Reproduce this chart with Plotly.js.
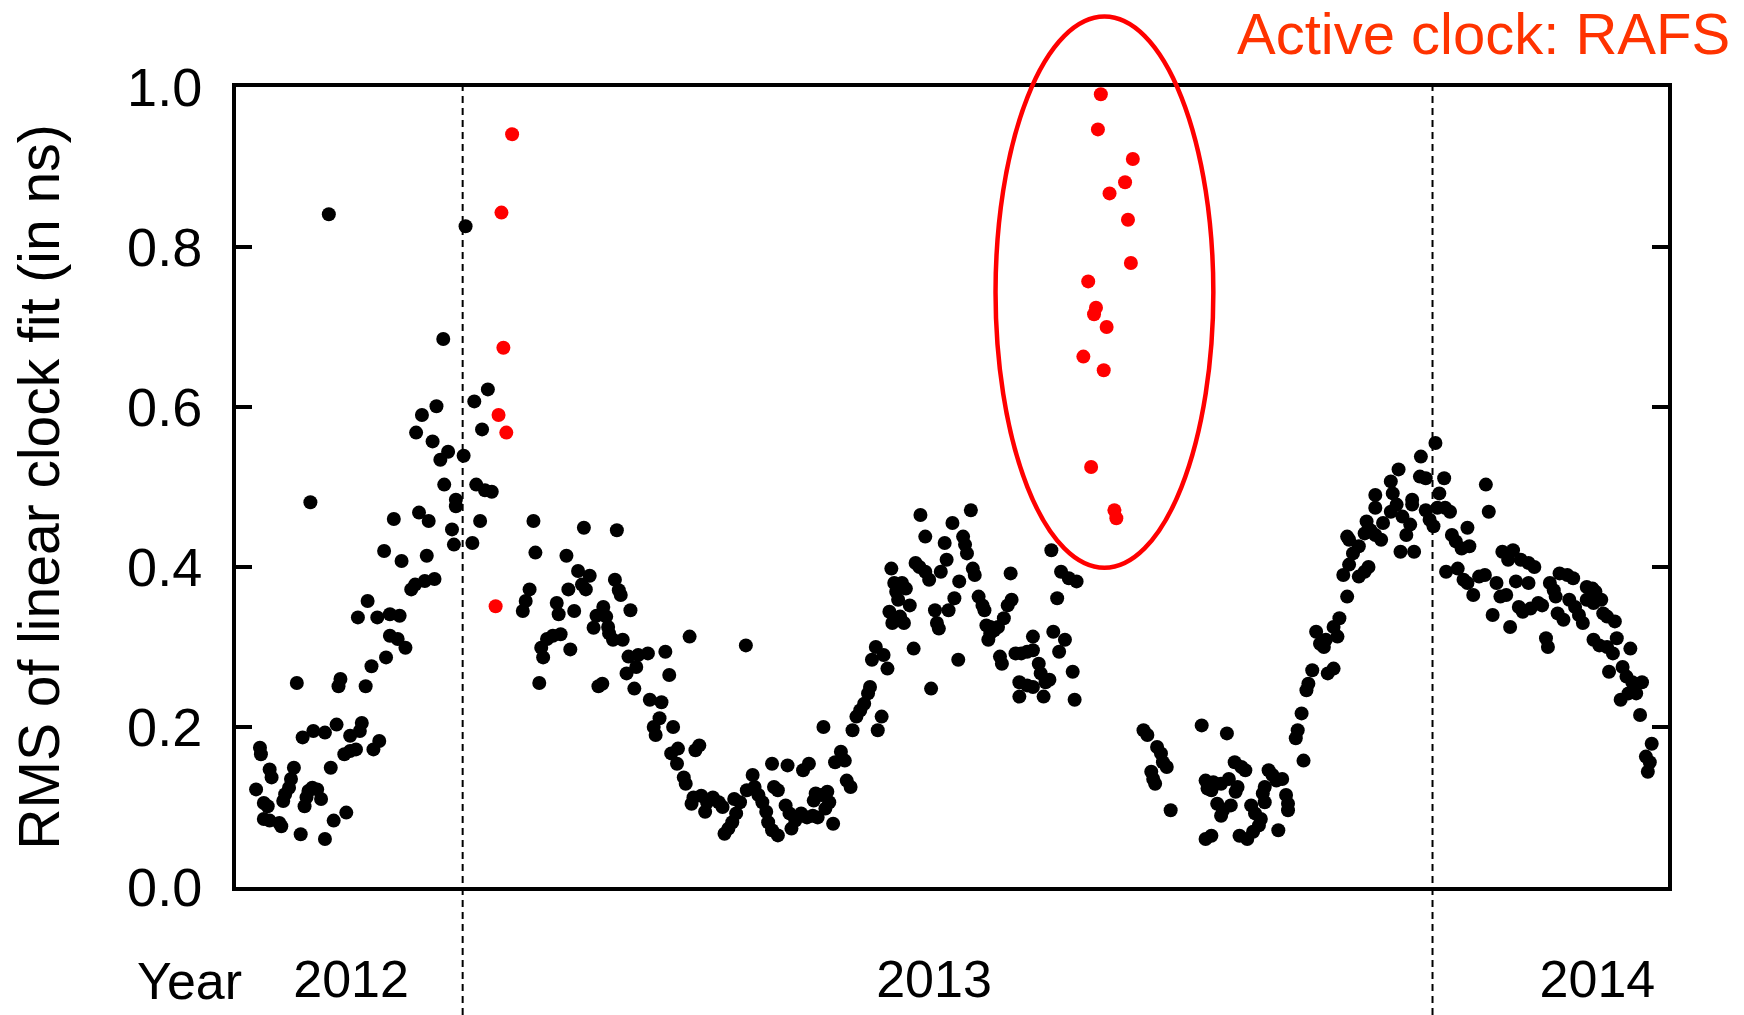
<!DOCTYPE html>
<html>
<head>
<meta charset="utf-8">
<script src="https://cdn.plot.ly/plotly-3.0.1.min.js"></script>
<style>
  html, body { margin: 0; padding: 0; background: #ffffff; }
  #chart { width: 1744px; height: 1015px; }
</style>
</head>
<body>
<div id="chart"></div>
<script>
// ---------------- DATA (decimal year, RMS in ns) ----------------
// Late 2012 (black)
const black2012 = [
  [2012.791,0.174],[2012.792,0.166],[2012.787,0.122],[2012.801,0.147],[2012.803,0.137],[2012.795,0.105],
  [2012.799,0.101],[2012.795,0.085],[2012.801,0.083],[2012.811,0.080],[2012.813,0.076],[2012.815,0.1075],
  [2012.817,0.116],[2012.821,0.124],[2012.823,0.135],[2012.826,0.149],[2012.833,0.066],[2012.829,0.255],
  [2012.835,0.187],[2012.839,0.112],[2012.841,0.120],[2012.845,0.124],[2012.850,0.122],[2012.854,0.110],
  [2012.837,0.101],[2012.846,0.195],[2012.858,0.193],[2012.858,0.060],[2012.867,0.083],[2012.880,0.093],
  [2012.864,0.149],[2012.870,0.203],[2012.872,0.251],[2012.874,0.260],[2012.878,0.166],[2012.884,0.170],
  [2012.890,0.172],[2012.884,0.189],[2012.894,0.195],[2012.896,0.205],[2012.908,0.172],[2012.914,0.1825],
  [2012.892,0.337],[2012.900,0.251],[2012.902,0.3575],[2012.906,0.276],[2012.921,0.287],[2012.912,0.337],
  [2012.925,0.341],[2012.935,0.339],[2012.925,0.314],[2012.933,0.310],[2012.941,0.299],[2012.919,0.420],
  [2012.937,0.4075],[2012.929,0.460],[2012.947,0.372],[2012.951,0.378],[2012.961,0.3825],[2012.971,0.385],
  [2012.955,0.468],[2012.965,0.4575],[2012.963,0.414],[2012.989,0.447],[2012.991,0.428],[2012.993,0.476],
  [2013.010,0.430],[2013.018,0.4575],[2012.843,0.481],
  [2012.862,0.841],[2013.003,0.826],[2012.980,0.685],[2013.026,0.622],[2013.012,0.607],[2012.973,0.601],
  [2012.958,0.590],[2012.952,0.568],[2013.020,0.572],[2012.969,0.557],[2012.985,0.544],[2012.977,0.534],
  [2013.001,0.539],[2012.981,0.503],[2013.014,0.503],[2013.023,0.496],[2013.030,0.494],[2012.993,0.484]
];
// Early 2013 (black)
const blackEarly2013 = [
  [2013.073,0.4575],[2013.075,0.418],[2013.069,0.372],[2013.065,0.3575],[2013.062,0.345],[2013.079,0.255],
  [2013.083,0.287],[2013.081,0.299],[2013.087,0.310],[2013.093,0.314],[2013.101,0.316],[2013.097,0.355],
  [2013.099,0.341],[2013.107,0.414],[2013.119,0.395],[2013.131,0.389],[2013.109,0.372],[2013.115,0.345],
  [2013.111,0.297],[2013.125,0.449],[2013.123,0.378],[2013.127,0.372],[2013.138,0.339],[2013.135,0.324],
  [2013.140,0.251],
  [2013.159,0.446],[2013.157,0.384],[2013.161,0.371],[2013.163,0.365],[2013.173,0.346],[2013.145,0.350],
  [2013.148,0.338],[2013.150,0.325],[2013.151,0.317],[2013.155,0.309],[2013.165,0.309],[2013.144,0.254],
  [2013.171,0.288],[2013.181,0.290],[2013.191,0.292],[2013.169,0.267],[2013.179,0.275],[2013.177,0.248],
  [2013.209,0.294],[2013.213,0.265],[2013.193,0.234],[2013.205,0.231],[2013.203,0.211],[2013.197,0.200],
  [2013.199,0.190],[2013.217,0.200],[2013.234,0.313],[2013.244,0.177],[2013.240,0.171],[2013.222,0.173],
  [2013.215,0.167],[2013.221,0.154],[2013.228,0.137],[2013.230,0.129],[2013.238,0.112],[2013.236,0.104],
  [2013.246,0.114],[2013.252,0.106],[2013.250,0.094],[2013.258,0.112],[2013.264,0.106],[2013.268,0.100],
  [2013.270,0.0665],[2013.274,0.073],[2013.278,0.081],[2013.282,0.092],[2013.280,0.110],[2013.292,0.302],
  [2013.286,0.106],[2013.293,0.121],[2013.299,0.140],[2013.301,0.125],[2013.305,0.115],[2013.309,0.106],
  [2013.313,0.094],[2013.315,0.081],[2013.319,0.071],[2013.325,0.0645],[2013.319,0.154],[2013.321,0.125],
  [2013.325,0.121],[2013.333,0.102],[2013.337,0.092],[2013.335,0.152],[2013.339,0.073],[2013.343,0.083],
  [2013.349,0.092],[2013.355,0.087],[2013.361,0.089],[2013.366,0.087],[2013.351,0.146],[2013.357,0.154],
  [2013.364,0.117],[2013.370,0.115],[2013.376,0.119],[2013.362,0.108],[2013.374,0.098],[2013.378,0.106],
  [2013.372,0.200],[2013.382,0.079],[2013.384,0.156],[2013.390,0.169],[2013.394,0.158],[2013.396,0.133],
  [2013.400,0.125]
];
// Mid 2013 (black)
const blackMid2013 = [
  [2013.402,0.196],[2013.406,0.213],[2013.410,0.221],[2013.414,0.229],[2013.418,0.242],[2013.420,0.250],
  [2013.428,0.196],[2013.432,0.213],[2013.422,0.284],[2013.426,0.300],[2013.434,0.290],[2013.438,0.273],
  [2013.442,0.398],[2013.445,0.380],[2013.447,0.369],[2013.449,0.359],[2013.453,0.380],[2013.457,0.373],
  [2013.440,0.344],[2013.443,0.330],[2013.455,0.330],[2013.451,0.338],[2013.461,0.352],[2013.465,0.298],
  [2013.467,0.405],[2013.471,0.400],[2013.477,0.394],[2013.481,0.384],[2013.472,0.465],[2013.477,0.438],
  [2013.483,0.248],[2013.487,0.346],[2013.489,0.330],[2013.491,0.323],[2013.493,0.394],[2013.497,0.430],
  [2013.499,0.409],[2013.501,0.346],[2013.505,0.455],[2013.507,0.361],[2013.511,0.284],[2013.512,0.382],
  [2013.516,0.438],[2013.518,0.428],[2013.520,0.417],[2013.524,0.471],[2013.526,0.398],[2013.528,0.390],
  [2013.532,0.363],[2013.536,0.352],[2013.538,0.346],[2013.540,0.327],[2013.544,0.325],[2013.548,0.321],
  [2013.542,0.309],[2013.544,0.317],[2013.552,0.325],[2013.558,0.336],[2013.562,0.352],[2013.566,0.359],
  [2013.554,0.288],[2013.556,0.279],[2013.565,0.392],[2013.570,0.292],[2013.576,0.292],[2013.582,0.294],
  [2013.588,0.296],[2013.588,0.313],[2013.574,0.256],[2013.582,0.252],[2013.588,0.250],[2013.574,0.238],
  [2013.594,0.279],[2013.596,0.267],[2013.601,0.256],[2013.605,0.259],[2013.599,0.238],[2013.607,0.421],
  [2013.609,0.319],[2013.615,0.294],[2013.621,0.309],[2013.613,0.361],[2013.617,0.394],[2013.625,0.386],
  [2013.633,0.382],[2013.629,0.269],[2013.631,0.234]
];
// Late 2013 – early 2014 (black)
const blackLate2013 = [
  [2013.702,0.196],[2013.706,0.190],[2013.716,0.175],[2013.720,0.167],[2013.722,0.156],[2013.726,0.150],
  [2013.710,0.144],[2013.712,0.135],[2013.714,0.129],[2013.730,0.096],
  [2013.762,0.202],[2013.788,0.192],[2013.766,0.133],[2013.774,0.131],[2013.782,0.129],[2013.790,0.135],
  [2013.768,0.123],[2013.772,0.121],[2013.796,0.156],[2013.803,0.150],[2013.807,0.146],[2013.799,0.125],
  [2013.797,0.119],[2013.778,0.104],[2013.784,0.096],[2013.792,0.102],[2013.782,0.089],[2013.766,0.060],
  [2013.772,0.064],[2013.801,0.064],[2013.809,0.060],[2013.815,0.069],[2013.821,0.077],[2013.823,0.085],
  [2013.813,0.102],[2013.817,0.092],[2013.827,0.125],[2013.825,0.117],[2013.831,0.146],[2013.835,0.140],
  [2013.839,0.133],[2013.845,0.135],[2013.827,0.106],[2013.841,0.071],[2013.849,0.115],[2013.851,0.104],
  [2013.851,0.096],[2013.859,0.186],[2013.861,0.196],[2013.865,0.217],[2013.867,0.158],[2013.870,0.246],
  [2013.872,0.254],[2013.876,0.271],[2013.880,0.319],[2013.884,0.304],[2013.888,0.300],[2013.890,0.309],
  [2013.892,0.267],[2013.898,0.273],[2013.898,0.325],[2013.902,0.313],[2013.904,0.336],[2013.912,0.363],
  [2013.908,0.390],[2013.914,0.403],[2013.918,0.417],[2013.924,0.426],[2013.912,0.438],[2013.914,0.434],
  [2013.924,0.388],[2013.930,0.394],[2013.934,0.400],[2013.930,0.442],[2013.936,0.446],[2013.941,0.440],
  [2013.947,0.434],[2013.949,0.455],[2013.932,0.457],[2013.941,0.474],[2013.957,0.469],[2013.963,0.478],
  [2013.969,0.463],[2013.977,0.453],[2013.967,0.419],[2013.973,0.440],[2013.981,0.419],[2013.979,0.478],
  [2013.993,0.471],[2013.997,0.459],[2014.001,0.451],[2014.005,0.474],
  [2014.003,0.555],[2013.988,0.538],[2013.965,0.522],[2013.987,0.513],[2013.993,0.511],[2014.012,0.511],
  [2013.957,0.507],[2014.055,0.503],[2014.007,0.492],[2013.941,0.490],[2013.959,0.492],[2013.979,0.484]
];
// 2014 (black)
const black2014 = [
  [2014.013,0.474],[2014.018,0.469],[2014.020,0.440],[2014.024,0.432],[2014.030,0.423],[2014.036,0.449],
  [2014.038,0.426],[2014.014,0.394],[2014.026,0.398],[2014.032,0.384],[2014.036,0.380],[2014.042,0.365],
  [2014.048,0.388],[2014.054,0.390],[2014.058,0.469],[2014.062,0.340],[2014.066,0.380],[2014.070,0.363],
  [2014.076,0.365],[2014.072,0.419],[2014.078,0.409],[2014.083,0.421],[2014.080,0.325],[2014.086,0.382],
  [2014.089,0.350],[2014.093,0.344],[2014.091,0.409],[2014.099,0.405],[2014.105,0.400],[2014.099,0.380],
  [2014.101,0.348],[2014.109,0.355],[2014.113,0.352],[2014.117,0.311],[2014.119,0.300],[2014.121,0.380],
  [2014.125,0.371],[2014.127,0.363],[2014.131,0.392],[2014.139,0.390],[2014.145,0.386],[2014.129,0.342],
  [2014.135,0.334],[2014.141,0.359],[2014.147,0.350],[2014.151,0.340],[2014.155,0.330],[2014.159,0.375],
  [2014.165,0.373],[2014.168,0.369],[2014.159,0.359],[2014.166,0.355],[2014.174,0.359],[2014.176,0.342],
  [2014.180,0.338],[2014.188,0.332],[2014.166,0.309],[2014.172,0.302],[2014.180,0.300],[2014.186,0.292],
  [2014.190,0.311],[2014.182,0.269],[2014.196,0.275],[2014.200,0.263],[2014.206,0.256],[2014.216,0.256],
  [2014.204,0.298],[2014.194,0.234],[2014.202,0.242],[2014.210,0.242],[2014.214,0.215],[2014.226,0.179],
  [2014.220,0.163],[2014.224,0.156],[2014.222,0.144]
];
// Active clock RAFS (red)
const redYear = [2013.051, 2013.040, 2013.042, 2013.037, 2013.045, 2013.034,
                 2013.658, 2013.655, 2013.691, 2013.683, 2013.667, 2013.686, 2013.689, 2013.645,
                 2013.653, 2013.651, 2013.664, 2013.640, 2013.661, 2013.648, 2013.672, 2013.674];
const redRms  = [0.941, 0.843, 0.674, 0.590, 0.568, 0.351,
                 0.991, 0.947, 0.910, 0.881, 0.867, 0.834, 0.780, 0.757,
                 0.724, 0.716, 0.700, 0.663, 0.646, 0.525, 0.471, 0.461];

// Axis / label data
const xRange = [2012.7663, 2014.2428];
const yTickVals = [0, 0.2, 0.4, 0.6, 0.8, 1.0];
const yearBoundaries = [2013, 2014];
const yearLabelPos = [2012.885, 2013.486, 2014.170];
const yearLabelText = ['2012', '2013', '2014'];
const yTitle = 'RMS of linear clock fit (in ns)';
const noteText = 'Active clock: RAFS';

// ---------------- BUILD ----------------
const blackAll = [].concat(black2012, blackEarly2013, blackMid2013, blackLate2013, black2014);
const FONT = 'Liberation Sans, Arial, Helvetica, sans-serif';

const traces = [
  {
    type: 'scatter', mode: 'markers',
    x: blackAll.map(p => p[0]), y: blackAll.map(p => p[1]),
    marker: { color: '#000000', size: 14 },
    hoverinfo: 'skip', showlegend: false
  },
  {
    type: 'scatter', mode: 'markers',
    x: redYear, y: redRms,
    marker: { color: '#ff0000', size: 14 },
    hoverinfo: 'skip', showlegend: false
  }
];

const shapes = yearBoundaries.map(yr => ({
  type: 'line', xref: 'x', yref: 'paper',
  x0: yr, x1: yr, y0: -0.16, y1: 1,
  line: { color: '#000000', width: 2, dash: '7px,5px' },
  layer: 'below'
}));
shapes.push({
  type: 'circle', xref: 'paper', yref: 'paper',
  x0: 0.5304, x1: 0.6825, y0: 0.399, y1: 1.088,
  line: { color: '#ff0000', width: 4.5 },
  fillcolor: 'rgba(0,0,0,0)'
});

const layout = {
  width: 1744, height: 1015,
  margin: { l: 236, r: 76, t: 87, b: 128 },
  paper_bgcolor: '#ffffff', plot_bgcolor: '#ffffff',
  font: { family: FONT, color: '#000000' },
  showlegend: false,
  xaxis: {
    type: 'linear', range: xRange,
    showgrid: false, zeroline: false,
    showline: true, linecolor: '#000000', linewidth: 4, mirror: true,
    ticks: '',
    tickmode: 'array', tickvals: yearLabelPos, ticktext: yearLabelText,
    tickfont: { family: FONT, size: 52, color: '#000000' },
    ticklabelstandoff: 44
  },
  yaxis: {
    range: [0, 1.0],
    showgrid: false, zeroline: false,
    showline: true, linecolor: '#000000', linewidth: 4, mirror: 'ticks',
    ticks: 'inside', ticklen: 16, tickwidth: 4, tickcolor: '#000000',
    tickmode: 'array', tickvals: yTickVals, tickformat: '.1f',
    tickfont: { family: FONT, size: 54, color: '#000000' },
    ticklabelstandoff: 19,
    title: { text: yTitle, font: { family: FONT, size: 57, color: '#000000' }, standoff: 50 }
  },
  shapes: shapes,
  annotations: [
    {
      text: 'Year', xref: 'paper', yref: 'paper', x: -0.0328, y: -0.118,
      xanchor: 'center', yanchor: 'middle', showarrow: false,
      font: { family: FONT, size: 52, color: '#000000' }
    },
    {
      text: noteText, xref: 'paper', yref: 'paper', x: 1.0447, y: 1.0675,
      xanchor: 'right', yanchor: 'middle', showarrow: false,
      font: { family: FONT, size: 58, color: '#ff3300' }
    }
  ]
};

Plotly.newPlot('chart', traces, layout, { staticPlot: true, displayModeBar: false });
</script>
</body>
</html>
